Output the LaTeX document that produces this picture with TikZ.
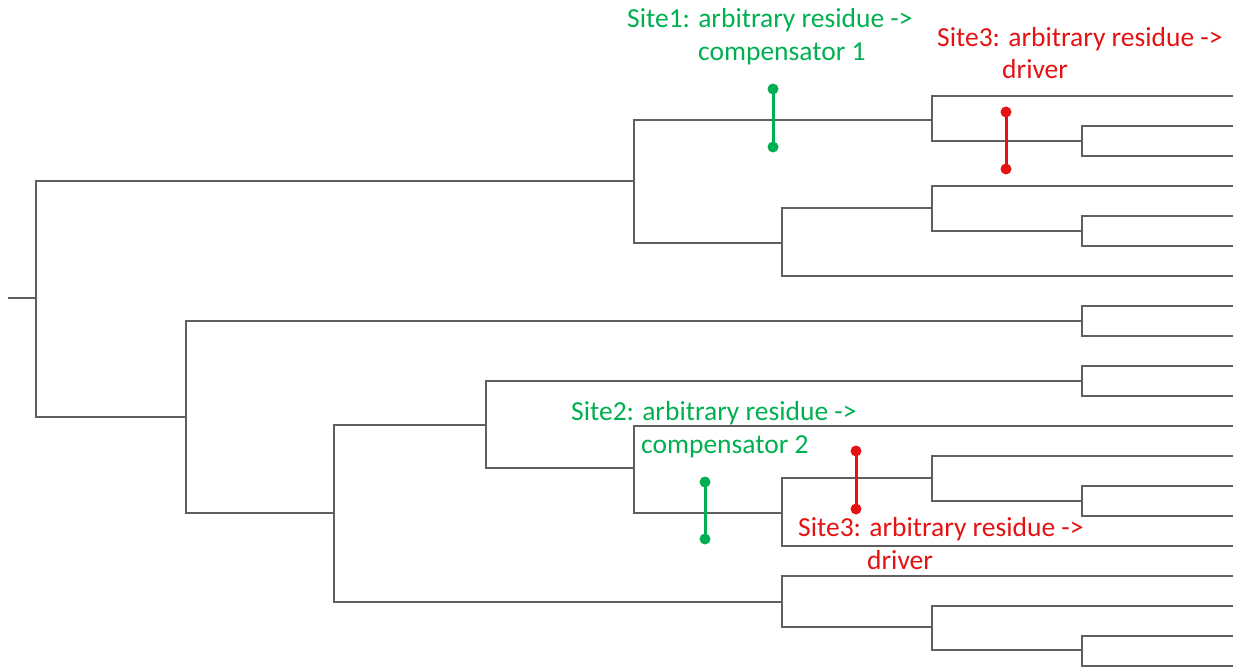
\documentclass[tikz,border=0pt]{standalone}
\usepackage{fontspec}
\setmainfont{Carlito}
\begin{document}
\begin{tikzpicture}[x=1pt,y=-1pt,
  branch/.style={draw=treegray,line width=1.8pt,line cap=rect},
  sitegreen/.style={draw=mkgreen,line width=3pt},
  sitered/.style={draw=mkred,line width=3pt},
  lblgreen/.style={anchor=base west,inner sep=0pt,text=mkgreen,font=\fontsize{27.5}{32}\selectfont},
  lblred/.style={anchor=base west,inner sep=0pt,text=mkred,font=\fontsize{27.5}{32}\selectfont}]
\definecolor{treegray}{RGB}{95,95,95}
\definecolor{mkgreen}{RGB}{0,176,80}
\definecolor{mkred}{RGB}{228,18,18}
\useasboundingbox[fill=white] (0,0) rectangle (1238,668);
% internal nodes
\coordinate (s) at (9,298);
\coordinate (r) at (36,298);
\coordinate (A) at (634,181);
\coordinate (B) at (186,417);
\coordinate (A1) at (932,120);
\coordinate (A1b) at (1082,141);
\coordinate (A2) at (782,243);
\coordinate (A2a) at (932,208);
\coordinate (A2ab) at (1082,231);
\coordinate (B1) at (1082,321);
\coordinate (B2) at (334,513);
\coordinate (B2a) at (486,425);
\coordinate (B2a1) at (1082,381);
\coordinate (B2a2) at (634,468);
\coordinate (C) at (782,513);
\coordinate (D) at (932,478);
\coordinate (E) at (1082,501);
\coordinate (B2b) at (782,602);
\coordinate (F) at (932,627);
\coordinate (G) at (1082,650);
% leaves
\foreach \i in {1,...,20} {\coordinate (L\i) at (1232,{96+30*(\i-1)});}
% branches
\draw[branch] (s) -- (r);
\draw[branch] (r) |- (A); \draw[branch] (r) |- (B);
\draw[branch] (A) |- (A1); \draw[branch] (A) |- (A2);
\draw[branch] (A1) |- (L1); \draw[branch] (A1) |- (A1b);
\draw[branch] (A1b) |- (L2); \draw[branch] (A1b) |- (L3);
\draw[branch] (A2) |- (A2a); \draw[branch] (A2) |- (L7);
\draw[branch] (A2a) |- (L4); \draw[branch] (A2a) |- (A2ab);
\draw[branch] (A2ab) |- (L5); \draw[branch] (A2ab) |- (L6);
\draw[branch] (B) |- (B1); \draw[branch] (B) |- (B2);
\draw[branch] (B1) |- (L8); \draw[branch] (B1) |- (L9);
\draw[branch] (B2) |- (B2a); \draw[branch] (B2) |- (B2b);
\draw[branch] (B2a) |- (B2a1); \draw[branch] (B2a) |- (B2a2);
\draw[branch] (B2a1) |- (L10); \draw[branch] (B2a1) |- (L11);
\draw[branch] (B2a2) |- (L12); \draw[branch] (B2a2) |- (C);
\draw[branch] (C) |- (D); \draw[branch] (C) |- (L16);
\draw[branch] (D) |- (L13); \draw[branch] (D) |- (E);
\draw[branch] (E) |- (L14); \draw[branch] (E) |- (L15);
\draw[branch] (B2b) |- (L17); \draw[branch] (B2b) |- (F);
\draw[branch] (F) |- (L18); \draw[branch] (F) |- (G);
\draw[branch] (G) |- (L19); \draw[branch] (G) |- (L20);
% site markers
\coordinate (g1a) at (773,89); \coordinate (g1b) at (773,147);
\coordinate (g2a) at (705,482); \coordinate (g2b) at (705,539);
\coordinate (r1a) at (1006,112); \coordinate (r1b) at (1006,169);
\coordinate (r2a) at (856,451); \coordinate (r2b) at (856,509);
\draw[sitegreen] (g1a) -- (g1b);
\fill[mkgreen] (g1a) circle (5.5) (g1b) circle (5.5);
\draw[sitegreen] (g2a) -- (g2b);
\fill[mkgreen] (g2a) circle (5.5) (g2b) circle (5.5);
\draw[sitered] (r1a) -- (r1b);
\fill[mkred] (r1a) circle (5.5) (r1b) circle (5.5);
\draw[sitered] (r2a) -- (r2b);
\fill[mkred] (r2a) circle (5.5) (r2b) circle (5.5);
% labels
\node[lblgreen] (t1a) at (627,28) {Site1: arbitrary residue ->};
\node[lblgreen] (t1b) at (698,61) {compensator 1};
\node[lblred] (t3a) at (937,47) {Site3: arbitrary residue ->};
\node[lblred] (t3b) at (1002,79) {driver};
\node[lblgreen] (t2a) at (571,420) {Site2: arbitrary residue ->};
\node[lblgreen] (t2b) at (641,453) {compensator 2};
\node[lblred] (t4a) at (798,536) {Site3: arbitrary residue ->};
\node[lblred] (t4b) at (867,569) {driver};
\end{tikzpicture}
\end{document}
